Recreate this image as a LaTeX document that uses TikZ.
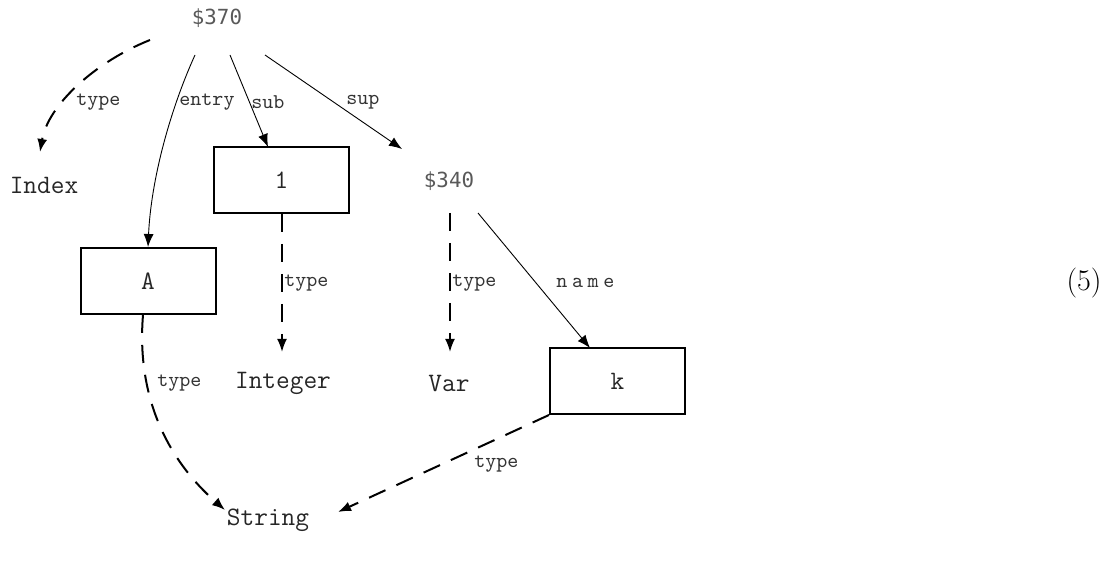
\documentclass[tikz,border=0pt]{standalone}
\usepackage{fontspec}
\newfontfamily\idfont{DejaVu Sans Mono}
\newfontfamily\spacedfont[LetterSpace=22]{Latin Modern Mono}
\usetikzlibrary{arrows.meta}
\begin{document}
\begin{tikzpicture}[x=0.5pt,y=-0.5pt,
  term/.style={font=\ttfamily\fontsize{13.3}{15}\selectfont, text=black!85, inner sep=0pt},
  idnode/.style={font=\idfont\fontsize{10.4}{12}\selectfont, text=black!65, inner sep=0pt},
  boxnode/.style={draw, line width=1pt, minimum width=67.5pt, minimum height=33pt, inner sep=0pt, font=\ttfamily\fontsize{13.3}{15}\selectfont, text=black!85},
  lbl/.style={font=\ttfamily\fontsize{10.5}{12}\selectfont, text=black!80, inner sep=0pt},
  solidarr/.style={line width=0.45pt, -{Latex[length=6.5pt,width=5pt]}},
  dasharr/.style={line width=1pt, dash pattern=on 9pt off 6pt, -{Latex[length=6.5pt,width=5pt]}},
]
\useasboundingbox (0,0) rectangle (1114,561);
\node[idnode] (n370) at (217,18) {\$370};
\node[term] (index) at (44,185) {Index};
\node[boxnode] (one) at (281.5,180) {1};
\node[idnode] (n340) at (449,181) {\$340};
\node[boxnode] (A) at (148,281) {A};
\node[term] (integer) at (283,383) {Integer};
\node[term] (var) at (449,383) {Var};
\node[boxnode] (k) at (617.5,381) {k};
\node[term] (string) at (268,520) {String};
\node[font=\fontsize{15}{17}\selectfont, inner sep=0pt] (eqno) at (1084,283) {(5)};

\coordinate (s1) at (150,40);
\coordinate (e1) at (40,152);
\draw[dasharr] (s1) .. controls (95,62) and (48,105) .. (e1);
\node[lbl, anchor=west] (l1) at (76,102) {type};

\coordinate (s2) at (195,55);
\draw[solidarr] (s2) .. controls (170,110) and (151,180) .. (A.north);
\node[lbl, anchor=west] (l2) at (179,102) {entry};

\coordinate (s3) at (230,55);
\draw[solidarr] (s3) -- (268,147);
\node[lbl, anchor=west] (l3) at (251,102) {sub};

\coordinate (s4) at (265,55);
\coordinate (e4) at (402,149);
\draw[solidarr] (s4) -- (e4);
\node[lbl, anchor=west] (l4) at (346,102) {sup};

\coordinate (e5) at (282,352);
\draw[dasharr] (one.south -| e5) -- (e5);
\node[lbl, anchor=west] (l5) at (284,283) {type};

\coordinate (s6) at (450,213);
\coordinate (e6) at (450,352);
\draw[dasharr] (s6) -- (e6);
\node[lbl, anchor=west] (l6) at (452,283) {type};

\coordinate (s7) at (478,213);
\draw[solidarr] (s7) -- (590,348);
\node[font=\spacedfont\fontsize{10.5}{12}\selectfont, text=black!80, inner sep=0pt, anchor=west] (l7) at (556,283) {name};

\coordinate (s8) at (143,315);
\coordinate (e8) at (225,510);
\draw[dasharr] (s8) .. controls (136,400) and (170,462) .. (e8);
\node[lbl, anchor=west] (l8) at (157,383) {type};

\coordinate (e9) at (338,512);
\draw[dasharr] (k.south west) -- (e9);
\node[lbl, anchor=west] (l9) at (474,464) {type};
\end{tikzpicture}
\end{document}
